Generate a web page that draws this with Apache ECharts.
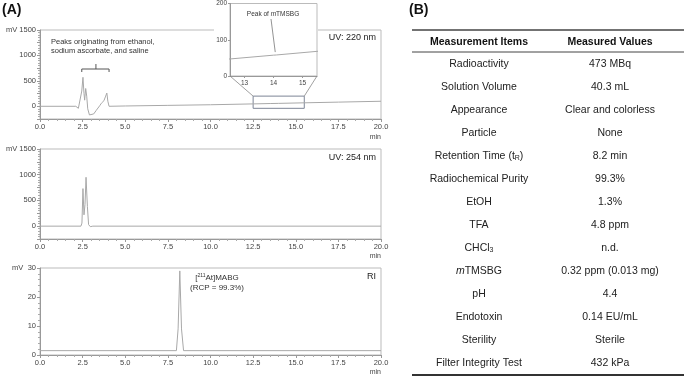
<!DOCTYPE html>
<html>
<head>
<meta charset="utf-8">
<script src="https://cdn.jsdelivr.net/npm/echarts@6/dist/echarts.min.js"></script>
<style>
html, body { margin: 0; padding: 0; background: #fff; }
#main { width: 685px; height: 376px; }
</style>
</head>
<body>
<div id="main"></div>
<script>
// chromatogram traces: [time (min), signal (mV)]
var uv220 = [[0, 0], [2.1, 0], [2.25, -40], [2.35, -20], [2.45, 300], [2.52, 570], [2.58, 250],
  [2.62, 120], [2.68, 350], [2.74, 200], [2.8, -50], [2.9, -170], [3.0, -190], [3.15, -150],
  [3.3, -80], [3.5, 10], [3.6, 60], [3.75, 110], [3.85, 200], [3.92, 260], [3.98, 100],
  [4.05, 0], [5, 6], [7.5, 18], [10, 30], [12.5, 47], [13.5, 54], [14.0, 57.5], [14.05, 62],
  [14.1, 58], [15.5, 68], [17.5, 82], [20, 99]];
var uv254 = [[0, 0], [2.4, 0], [2.46, 60], [2.52, 730], [2.58, 220], [2.64, 420], [2.7, 950],
  [2.78, 380], [2.85, 30], [2.95, -10], [3.1, 0], [20, 0]];
var ri = [[0, 1.5], [8.0, 1.5], [8.1, 9], [8.2, 29], [8.3, 9], [8.42, 1.5], [20, 1.5]];

var insetTicks = [13, 14, 15];

// table (B)
var items = ['Radioactivity', 'Solution Volume', 'Appearance', 'Particle', 'Retention Time (t{sub|R})',
  'Radiochemical Purity', 'EtOH', 'TFA', 'CHCl{sub|3}', '{it|m}TMSBG', 'pH', 'Endotoxin',
  'Sterility', 'Filter Integrity Test'];
var values = ['473 MBq', '40.3 mL', 'Clear and colorless', 'None', '8.2 min', '99.3%', '1.3%',
  '4.8 ppm', 'n.d.', '0.32 ppm (0.013 mg)', '4.4', '0.14 EU/mL', 'Sterile', '432 kPa'];

var FONT = 'Liberation Sans, Arial, sans-serif';
var LINE = '#a8a8a8';

function xAxisOf(i) {
  return {
    gridIndex: i, type: 'value', min: 0, max: 20, interval: 2.5,
    axisLine: { show: true, onZero: false, lineStyle: { color: '#999' } },
    axisTick: { show: true, length: 3, lineStyle: { color: '#999' } },
    minorTick: { show: true, splitNumber: 5, length: 2, lineStyle: { color: '#aaa' } },
    splitLine: { show: false },
    axisLabel: { fontSize: 7.5, color: '#444', margin: 4, fontFamily: FONT,
      formatter: function (v) { return v.toFixed(1); } }
  };
}
function yAxisOf(i, min, max, step, every) {
  return {
    gridIndex: i, type: 'value', min: min, max: max, interval: step,
    axisLine: { show: true, onZero: false, lineStyle: { color: '#999' } },
    axisTick: { show: true, length: 3, lineStyle: { color: '#999' } },
    minorTick: { show: true, splitNumber: 5, length: 2, lineStyle: { color: '#aaa' } },
    splitLine: { show: false },
    axisLabel: { fontSize: 7.5, color: '#444', margin: 4, fontFamily: FONT,
      formatter: function (v) { return v % every === 0 ? String(v) : ''; } }
  };
}
function trace(i, data, extra) {
  var s = { type: 'line', xAxisIndex: i, yAxisIndex: i, data: data, showSymbol: false,
    silent: true, animation: false, lineStyle: { color: LINE, width: 1 } };
  for (var k in extra) s[k] = extra[k];
  return s;
}

var chart = echarts.init(document.getElementById('main'));
var gridBox = { show: true, borderColor: '#bbb', borderWidth: 1, backgroundColor: 'transparent' };
chart.setOption({
  animation: false,
  textStyle: { fontFamily: FONT },
  grid: [
    Object.assign({ left: 40, top: 30, width: 341, height: 89 }, gridBox),
    Object.assign({ left: 40, top: 149, width: 341, height: 90 }, gridBox),
    Object.assign({ left: 40, top: 268, width: 341, height: 87 }, gridBox),
    { left: 230, top: 3, width: 87, height: 73, show: true, borderColor: '#bbb', borderWidth: 1, z: 4 }
  ],
  xAxis: [xAxisOf(0), xAxisOf(1), xAxisOf(2), {
    gridIndex: 3, type: 'value', min: 12.5, max: 15.5, z: 4,
    axisLine: { show: true, onZero: false, lineStyle: { color: '#999' } },
    axisTick: { show: true, length: 2, customValues: insetTicks, lineStyle: { color: '#999' } },
    splitLine: { show: false },
    axisLabel: { fontSize: 6.5, color: '#444', margin: 4, customValues: insetTicks }
  }],
  yAxis: [yAxisOf(0, -250, 1500, 250, 500), yAxisOf(1, -250, 1500, 250, 500),
    yAxisOf(2, 0, 30, 10, 10), {
    gridIndex: 3, type: 'value', min: 0, max: 200, interval: 100, z: 4,
    axisLine: { show: true, onZero: false, lineStyle: { color: '#999' } },
    axisTick: { show: true, length: 2, lineStyle: { color: '#999' } },
    splitLine: { show: false },
    axisLabel: { fontSize: 6.5, color: '#444', margin: 3 }
  }],
  series: [
    trace(0, uv220, { markArea: { silent: true, itemStyle: { color: 'rgba(0,0,0,0)',
      borderColor: '#7d8596', borderWidth: 1 }, data: [[{ coord: [12.5, -40] }, { coord: [15.5, 200] }]] } }),
    trace(1, uv254, {}),
    trace(2, ri, {}),
    trace(3, uv220, { z: 5 })
  ]
});

function px(g, p) { return chart.convertToPixel({ gridIndex: g }, p); }

var g = [];
function txt(x, y, text, opt) {
  var st = { x: x, y: y, text: text, fontFamily: FONT, fontSize: 7.5, fill: '#333',
    textAlign: 'left', textVerticalAlign: 'middle' };
  for (var k in opt) st[k] = opt[k];
  g.push({ type: 'text', z: 10, silent: true, style: st });
}
function seg(a, b, color, w, z) {
  g.push({ type: 'line', silent: true, z: z || 10, shape: { x1: a[0], y1: a[1], x2: b[0], y2: b[1] },
    style: { stroke: color, lineWidth: w } });
}

// white backdrop for inset
g.push({ type: 'rect', silent: true, z: 3, shape: { x: 214, y: 0, width: 104, height: 88 },
  style: { fill: '#fff' } });

// panel letters
txt(2, 10, '(A)', { fontSize: 14, fontWeight: 'bold', fill: '#111' });
txt(409, 10, '(B)', { fontSize: 14, fontWeight: 'bold', fill: '#111' });

// units
[30, 149, 268].forEach(function (y, i) {
  txt(i === 2 ? 12 : 6, y, 'mV', { fill: '#444' });
  txt(381, [137, 256, 372][i], 'min', { textAlign: 'right', fontSize: 7, fill: '#444' });
});
txt(376, 38, 'UV: 220 nm', { textAlign: 'right', fontSize: 9, fill: '#222' });
txt(376, 158, 'UV: 254 nm', { textAlign: 'right', fontSize: 9, fill: '#222' });
txt(376, 277, 'RI', { textAlign: 'right', fontSize: 9, fill: '#222' });

// bracket over the early peaks
txt(51, 46, 'Peaks originating from ethanol,\nsodium ascorbate, and saline', { lineHeight: 9 });
var bl = px(0, [2.45, 674]), bL = px(0, [2.45, 733]), bR = px(0, [4.05, 733]), br = px(0, [4.05, 674]);
g.push({ type: 'polyline', silent: true, z: 10, shape: { points: [bl, bL, bR, br] },
  style: { stroke: '#555', lineWidth: 1, fill: null } });
seg(px(0, [3.28, 733]), px(0, [3.28, 831]), '#555', 1);

// inset annotation
txt(273, 14, 'Peak of {it|m}TMSBG', { textAlign: 'center', fontSize: 6.5,
  rich: { it: { fontStyle: 'italic', fontSize: 6.5 } } });
seg([271, 19], px(3, [14.06, 66]), '#777', 0.8);

// connectors from inset to zoom box
seg(px(3, [12.5, 0]), px(0, [12.5, 200]), '#888', 0.8);
seg(px(3, [15.5, 0]), px(0, [15.5, 200]), '#888', 0.8);

// RI peak label
txt(217, 283, '[{sup|211}At]MABG\n(RCP = 99.3%)', { textAlign: 'center', fontSize: 8, lineHeight: 10,
  rich: { sup: { fontSize: 5, verticalAlign: 'top' } } });

// table
seg([412, 30], [684, 30], '#444', 1.5);
seg([412, 52], [684, 52], '#444', 1);
seg([412, 375], [684, 375], '#333', 2);
txt(479, 42, 'Measurement Items', { textAlign: 'center', fontSize: 10.5, fontWeight: 'bold', fill: '#111' });
txt(610, 42, 'Measured Values', { textAlign: 'center', fontSize: 10.5, fontWeight: 'bold', fill: '#111' });
items.forEach(function (name, i) {
  var y = 64 + i * 23;
  txt(479, y, name, { textAlign: 'center', fontSize: 10.5, fill: '#222',
    rich: { sub: { fontSize: 7, verticalAlign: 'top', padding: [5, 0, 0, 0] },
      it: { fontSize: 10.5, fontStyle: 'italic' } } });
  txt(610, y, values[i], { textAlign: 'center', fontSize: 10.5, fill: '#222' });
});

chart.setOption({ graphic: g });
</script>
</body>
</html>
